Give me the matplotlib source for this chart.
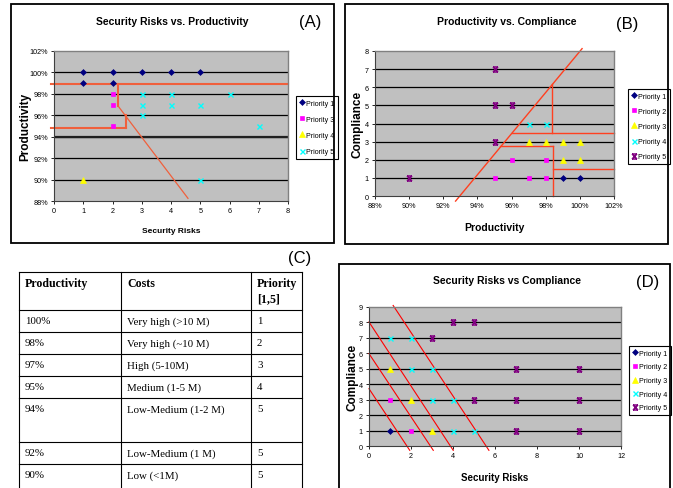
import matplotlib
matplotlib.use("Agg")
import matplotlib.pyplot as plt
from matplotlib.path import Path
from matplotlib.lines import Line2D
from matplotlib.patches import Rectangle

W, H = 673, 489
plt.rcParams['font.family'] = ['Liberation Sans Narrow', 'Liberation Sans', 'DejaVu Sans']

# ---------------- data ----------------
# Panel A: Security Risks (x) vs Productivity (y, %)
a_labels = ["Priority 1", "Priority 3", "Priority 4", "Priority 5"]
a_p1_x = [1, 2, 3, 4, 5, 1, 2]
a_p1_y = [100, 100, 100, 100, 100, 99, 99]
a_p3_x = [2, 2, 2]
a_p3_y = [98, 97, 95]
a_p4_x = [1]
a_p4_y = [90]
a_p5_x = [3, 4, 6, 3, 4, 5, 3, 7, 5]
a_p5_y = [98, 98, 98, 97, 97, 97, 96, 95, 90]
a_lines = [([-0.1, 8.0], [98.9, 98.9]),
           ([2.19, 2.19], [98.9, 96.87]),
           ([2.19, 4.58], [96.87, 88.25]),
           ([-0.1, 2.45], [94.8, 94.8]),
           ([2.45, 2.45], [94.8, 96.0])]
a_xticks = [0, 1, 2, 3, 4, 5, 6, 7, 8]
a_yticks = [88, 90, 92, 94, 96, 98, 100, 102]

# Panel B: Productivity (x, %) vs Compliance (y)
b_labels = ["Priority 1", "Priority 2", "Priority 3", "Priority 4", "Priority 5"]
b_p1_x = [99, 100]
b_p1_y = [1, 1]
b_p2_x = [95, 97, 98, 96, 98]
b_p2_y = [1, 1, 1, 2, 2]
b_p3_x = [97, 98, 99, 100, 99, 100]
b_p3_y = [3, 3, 3, 3, 2, 2]
b_p4_x = [97, 98]
b_p4_y = [4, 4]
b_p5_x = [90, 95, 95, 96, 95]
b_p5_y = [1, 3, 5, 5, 7]
b_lines = [([92.72, 100.13], [-0.28, 8.13]),
           ([98.37, 98.37], [6.16, 3.49]),
           ([96.0, 102.0], [3.49, 3.49]),
           ([95.31, 98.42], [2.76, 2.76]),
           ([98.42, 98.42], [2.76, 0.0]),
           ([98.42, 102.0], [1.47, 1.47])]
b_xticks = [88, 90, 92, 94, 96, 98, 100, 102]
b_yticks = [0, 1, 2, 3, 4, 5, 6, 7, 8]

# Panel D: Security Risks (x) vs Compliance (y)
d_labels = ["Priority 1", "Priority 2", "Priority 3", "Priority 4", "Priority 5"]
d_p1_x = [1]
d_p1_y = [1]
d_p2_x = [1, 2]
d_p2_y = [3, 1]
d_p3_x = [1, 2, 3]
d_p3_y = [5, 3, 1]
d_p4_x = [1, 2, 2, 3, 3, 4, 4, 5]
d_p4_y = [7, 7, 5, 5, 3, 3, 1, 1]
d_p5_x = [3, 4, 5, 7, 10, 5, 7, 10, 7, 10]
d_p5_y = [7, 8, 8, 5, 5, 3, 3, 3, 1, 1]
d_lines = [([0.0, 1.94], [3.71, -0.28]),
           ([0.0, 3.06], [5.98, -0.28]),
           ([0.0, 4.01], [8.03, -0.28]),
           ([1.15, 5.71], [9.1, -0.28])]
d_xticks = [0, 2, 4, 6, 8, 10, 12]
d_yticks = [0, 1, 2, 3, 4, 5, 6, 7, 8, 9]

# Panel C: table
c_header = ["Productivity", "Costs", "Priority\n[1,5]"]
c_prod = ["100%", "98%", "97%", "95%", "94%", "92%", "90%"]
c_costs = ["Very high (>10 M)", "Very high (~10 M)", "High (5-10M)", "Medium (1-5 M)",
           "Low-Medium (1-2 M)", "Low-Medium (1 M)", "Low (<1M)"]
c_prio = ["1", "2", "3", "4", "5", "5", "5"]

# ---------------- styles ----------------
NAVY, MAG, YEL, CYAN, PURP = '#000080', '#FF00FF', '#FFFF00', '#00FFFF', '#800080'
LINE_A = '#F0603C'
star = Path([(-1, -1), (1, 1), (-1, 1), (1, -1), (-1, 1), (1, 1), (-1, -1), (1, -1)],
            [Path.MOVETO, Path.LINETO, Path.MOVETO, Path.LINETO,
             Path.MOVETO, Path.LINETO, Path.MOVETO, Path.LINETO])
ST_DIAMOND = dict(marker='D', color=NAVY, ms=3.0, mew=0.5)
ST_SQUARE = dict(marker='s', color=MAG, ms=3.3, mew=0.5)
ST_TRI = dict(marker='^', color=YEL, ms=3.8, mew=0.5)
ST_X = dict(marker='x', color=CYAN, ms=3.6, mew=1.0)
ST_STAR = dict(marker=star, color=PURP, ms=3.6, mew=1.1)

fig = plt.figure(figsize=(W / 100, H / 100), dpi=100)
fig.patch.set_facecolor('white')


def axes_px(x0, y0, x1, y1):
    return fig.add_axes([x0 / W, 1 - y1 / H, (x1 - x0) / W, (y1 - y0) / H])


def style_ax(ax, xt, yt, xlim, ylim, xfmt=None, yfmt=None):
    ax.set_facecolor('#C0C0C0')
    ax.set_xlim(*xlim)
    ax.set_ylim(*ylim)
    ax.set_xticks(xt)
    ax.set_yticks(yt)
    ax.set_xticklabels([xfmt(v) if xfmt else str(v) for v in xt])
    ax.set_yticklabels([yfmt(v) if yfmt else str(v) for v in yt])
    for v in yt[1:-1]:
        ax.axhline(v, color='black', lw=0.9, zorder=1)
    ax.tick_params(axis='both', labelsize=5.2, length=2.5, width=0.6, pad=2, direction='out')
    for s in ['top', 'right']:
        ax.spines[s].set_color('#808080')
        ax.spines[s].set_linewidth(1.0)
    for s in ['left', 'bottom']:
        ax.spines[s].set_color('#404040')
        ax.spines[s].set_linewidth(0.8)


def plot_series(ax, series):
    handles = []
    for label, st, xs, ys in series:
        h, = ax.plot(xs, ys, linestyle='none', marker=st['marker'], color=st['color'],
                     markersize=st['ms'], markeredgecolor=st['color'],
                     markeredgewidth=st['mew'], zorder=3, clip_on=False, label=label)
        handles.append(h)
    return handles


def legend_px(ax, handles, x0, y0, spacing):
    leg = ax.legend(handles=handles, loc='upper left',
                    bbox_to_anchor=(x0 / W, 1 - y0 / H), bbox_transform=fig.transFigure,
                    fontsize=5.1, frameon=True, fancybox=False, edgecolor='black',
                    borderpad=0.5, labelspacing=spacing, handlelength=0.6,
                    handletextpad=0.3, borderaxespad=0, framealpha=1)
    leg.get_frame().set_linewidth(0.8)
    return leg


def border_px(x0, y0, x1, y1):
    fig.patches.append(Rectangle((x0 / W, 1 - y1 / H), (x1 - x0) / W, (y1 - y0) / H,
                                 transform=fig.transFigure, fill=False,
                                 edgecolor='black', lw=1.3, zorder=0))


pct = lambda v: f'{v}%'

# ---------------- Panel A ----------------
border_px(11, 5, 334, 244)
axA = axes_px(54, 52, 288, 202)
style_ax(axA, a_xticks, a_yticks, (0, 8), (88, 102), yfmt=pct)
axA.axhline(94, color='#202020', lw=1.6, zorder=1)
for (lx, ly), lw in zip(a_lines, [1.5, 1.5, 0.9, 1.5, 1.5]):
    axA.plot(lx, ly, color=LINE_A, lw=lw, zorder=2, clip_on=False)
hA = plot_series(axA, [(a_labels[0], ST_DIAMOND, a_p1_x, a_p1_y),
                       (a_labels[1], ST_SQUARE, a_p3_x, a_p3_y),
                       (a_labels[2], ST_TRI, a_p4_x, a_p4_y),
                       (a_labels[3], ST_X, a_p5_x, a_p5_y)])
legend_px(axA, hA, 296, 97, 1.3)
axA.set_xlabel('Security Risks', fontsize=6, fontweight='bold', labelpad=9)
axA.set_ylabel('Productivity', fontsize=8.5, fontweight='bold')
axA.yaxis.set_label_coords((31 - 54) / 234, 0.5)
fig.text(172 / W, 1 - 22 / H, 'Security Risks vs. Productivity', fontsize=7.5,
         fontweight='bold', ha='center', va='center')
fig.text(310 / W, 1 - 23 / H, '(A)', fontsize=12, ha='center', va='center',
         family=['Liberation Sans'])

# ---------------- Panel B ----------------
border_px(345, 5, 668, 245)
axB = axes_px(375, 52, 614, 197)
style_ax(axB, b_xticks, b_yticks, (88, 102), (0, 8), xfmt=pct)
for lx, ly in b_lines:
    axB.plot(lx, ly, color='#FF4020', lw=1.0, zorder=2, clip_on=False)
hB = plot_series(axB, [(b_labels[0], ST_DIAMOND, b_p1_x, b_p1_y),
                       (b_labels[1], ST_SQUARE, b_p2_x, b_p2_y),
                       (b_labels[2], ST_TRI, b_p3_x, b_p3_y),
                       (b_labels[3], ST_X, b_p4_x, b_p4_y),
                       (b_labels[4], ST_STAR, b_p5_x, b_p5_y)])
legend_px(axB, hB, 628, 90, 1.15)
axB.set_xlabel('Productivity', fontsize=7.5, fontweight='bold', labelpad=9)
axB.set_ylabel('Compliance', fontsize=8.5, fontweight='bold')
axB.yaxis.set_label_coords((363 - 375) / 239, 0.5)
fig.text(507 / W, 1 - 22 / H, 'Productivity vs. Compliance', fontsize=7.5,
         fontweight='bold', ha='center', va='center')
fig.text(627 / W, 1 - 24 / H, '(B)', fontsize=12, ha='center', va='center',
         family=['Liberation Sans'])

# ---------------- Panel D ----------------
border_px(339, 265, 670, 495)
axD = axes_px(369, 308, 621, 447)
style_ax(axD, d_xticks, d_yticks, (0, 12), (0, 9))
for lx, ly in d_lines:
    axD.plot(lx, ly, color='#FF0000', lw=0.8, zorder=2, clip_on=False)
hD = plot_series(axD, [(d_labels[0], ST_DIAMOND, d_p1_x, d_p1_y),
                       (d_labels[1], ST_SQUARE, d_p2_x, d_p2_y),
                       (d_labels[2], ST_TRI, d_p3_x, d_p3_y),
                       (d_labels[3], ST_X, d_p4_x, d_p4_y),
                       (d_labels[4], ST_STAR, d_p5_x, d_p5_y)])
legend_px(axD, hD, 629, 347, 0.95)
axD.set_xlabel('Security Risks', fontsize=7, fontweight='bold', labelpad=9)
axD.set_ylabel('Compliance', fontsize=8.5, fontweight='bold')
axD.yaxis.set_label_coords((358 - 369) / 252, 0.5)
fig.text(507 / W, 1 - 281 / H, 'Security Risks vs Compliance', fontsize=7.5,
         fontweight='bold', ha='center', va='center')
fig.text(648 / W, 1 - 282 / H, '(D)', fontsize=12, ha='center', va='center',
         family=['Liberation Sans'])

# ---------------- Panel C (table) ----------------
fig.text(300 / W, 1 - 259 / H, '(C)', fontsize=12, ha='center', va='center',
         family=['Liberation Sans'])
col_x = [19, 121, 251, 302]
row_y = [273, 311, 333, 355, 377, 399, 443, 465, 495]
serif = ['Liberation Serif', 'DejaVu Serif']
for x in col_x:
    fig.add_artist(Line2D([x / W, x / W], [1 - row_y[0] / H, 1 - row_y[-1] / H],
                          color='black', lw=0.8, transform=fig.transFigure))
for y in row_y:
    fig.add_artist(Line2D([col_x[0] / W, col_x[-1] / W], [1 - y / H, 1 - y / H],
                          color='black', lw=0.8, transform=fig.transFigure))
for j, htxt in enumerate(c_header):
    fig.text((col_x[j] + 6) / W, 1 - (row_y[0] + 5) / H, htxt, fontsize=8.6,
             fontweight='bold', ha='left', va='top', family=serif, linespacing=1.35)
for i in range(len(c_prod)):
    ytop = row_y[i + 1]
    for j, val in enumerate([c_prod[i], c_costs[i], c_prio[i]]):
        fig.text((col_x[j] + 6) / W, 1 - (ytop + 6) / H, val, fontsize=7.8,
                 ha='left', va='top', family=serif)

fig.savefig('out.png', dpi=100, facecolor='white')
